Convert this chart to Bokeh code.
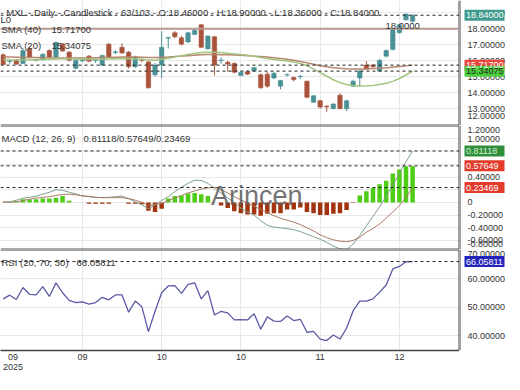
from bokeh.plotting import figure
from bokeh.layouts import column, row
from bokeh.models import (ColumnDataSource, Span, Label, FixedTicker, Range1d)
from bokeh.core.properties import value
from bokeh.embed import file_html
from bokeh.resources import INLINE

# ---------------- data ----------------
open_ = [16.36, 15.94, 16.02, 15.82, 16.73, 16.02, 16.05, 16.63, 16.22, 17.05,
         16.53, 15.52, 15.98, 16.28, 16.00, 15.72, 17.03, 16.50, 16.83, 16.53,
         15.62, 16.06, 15.92, 15.11, 15.72, 17.40, 17.74, 17.43, 17.17, 17.64,
         18.24, 16.73, 17.49, 16.00, 15.90, 15.82, 15.07, 15.31, 15.35, 15.11,
         15.15, 14.91, 14.40, 15.10, 14.95, 14.99, 14.71, 13.39, 13.49, 13.15,
         12.99, 13.84, 12.99, 14.40, 14.91, 15.72, 15.72, 15.35, 16.28, 16.69,
         17.74, 18.55, 18.46]
high = [16.45, 16.10, 16.08, 16.80, 16.85, 16.12, 16.45, 16.70, 17.20, 17.10,
        16.60, 16.10, 16.10, 16.35, 16.12, 16.38, 17.10, 16.65, 17.09, 16.60,
        16.30, 16.12, 16.00, 15.85, 17.84, 17.48, 17.85, 17.55, 17.80, 18.04,
        18.30, 17.60, 17.55, 16.20, 15.98, 15.90, 15.35, 15.38, 15.62, 15.20,
        15.30, 15.30, 14.80, 15.20, 15.00, 15.10, 14.75, 13.85, 13.55, 13.20,
        13.32, 13.95, 13.55, 14.80, 15.40, 15.97, 15.80, 16.10, 16.70, 18.00,
        18.30, 18.95, 18.90]
low = [15.70, 15.80, 15.72, 15.78, 16.15, 15.95, 16.00, 16.15, 16.15, 16.55,
       15.95, 15.45, 15.90, 15.90, 15.85, 15.65, 16.15, 16.40, 16.42, 15.50,
       15.55, 15.90, 14.25, 15.00, 14.91, 16.75, 17.40, 16.95, 17.10, 17.60,
       16.80, 16.70, 15.07, 15.80, 15.31, 15.20, 15.02, 15.10, 15.30, 14.25,
       14.30, 14.85, 14.20, 15.00, 14.70, 14.85, 13.65, 13.35, 12.98, 12.80,
       12.95, 12.95, 12.85, 14.35, 14.40, 15.42, 15.55, 15.30, 16.20, 16.65,
       17.70, 18.50, 18.36]
close = [15.76, 15.98, 15.78, 16.63, 16.22, 16.06, 16.40, 16.22, 17.13, 16.60,
         16.02, 16.02, 16.02, 15.96, 16.04, 16.32, 16.22, 16.55, 16.48, 15.62,
         16.22, 16.02, 14.30, 15.72, 16.83, 17.45, 17.49, 17.03, 17.74, 17.90,
         16.83, 17.54, 15.72, 16.04, 15.78, 15.27, 15.27, 15.15, 15.56, 14.30,
         14.40, 15.21, 14.75, 15.12, 14.81, 15.02, 13.70, 13.80, 13.09, 13.10,
         13.29, 12.99, 13.49, 14.71, 15.35, 15.47, 15.62, 16.02, 16.63, 17.94,
         18.24, 18.91, 18.84]
sma40 = [16.22, 16.22, 16.21, 16.20, 16.20, 16.19, 16.18, 16.18, 16.17, 16.17,
         16.16, 16.16, 16.16, 16.17, 16.18, 16.19, 16.20, 16.21, 16.22, 16.22,
         16.22, 16.21, 16.20, 16.19, 16.20, 16.22, 16.25, 16.28, 16.31, 16.34,
         16.36, 16.38, 16.38, 16.37, 16.36, 16.35, 16.33, 16.31, 16.28, 16.25,
         16.22, 16.18, 16.13, 16.08, 16.02, 15.95, 15.86, 15.77, 15.68, 15.61,
         15.56, 15.52, 15.49, 15.47, 15.47, 15.48, 15.50, 15.52, 15.55, 15.59,
         15.63, 15.67, 15.717]
sma20 = [16.05, 16.04, 16.03, 16.04, 16.05, 16.06, 16.07, 16.08, 16.10, 16.11,
         16.11, 16.10, 16.09, 16.08, 16.08, 16.09, 16.10, 16.12, 16.13, 16.12,
         16.10, 16.08, 16.03, 16.02, 16.08, 16.15, 16.22, 16.30, 16.38, 16.45,
         16.50, 16.53, 16.52, 16.50, 16.46, 16.42, 16.38, 16.33, 16.27, 16.20,
         16.13, 16.07, 16.02, 15.97, 15.92, 15.82, 15.68, 15.48, 15.25, 15.02,
         14.80, 14.62, 14.50, 14.44, 14.41, 14.42, 14.45, 14.50, 14.58, 14.70,
         14.88, 15.10, 15.34075]
macd_line = [0.0, 0.01, 0.035, 0.066, 0.08, 0.10, 0.13, 0.16, 0.20, 0.19,
             0.16, 0.136, 0.10, 0.09, 0.08, 0.076, 0.08, 0.09, 0.10, 0.06,
             0.01, -0.04, -0.10, -0.04, 0.03, 0.09, 0.17, 0.24, 0.30, 0.35,
             0.345, 0.30, 0.22, 0.15, 0.07, 0.0, -0.09, -0.15, -0.20, -0.29,
             -0.36, -0.39, -0.40, -0.415, -0.43, -0.46, -0.50, -0.54, -0.58, -0.63,
             -0.69, -0.73, -0.74, -0.66, -0.52, -0.37, -0.22, -0.07, 0.10, 0.27,
             0.46, 0.64, 0.81118]
signal_line = [0.01, 0.0, 0.01, 0.03, 0.05, 0.07, 0.08, 0.09, 0.11, 0.125,
               0.13, 0.12, 0.105, 0.095, 0.08, 0.075, 0.075, 0.075, 0.075, 0.06,
               0.035, 0.0, -0.05, -0.03, -0.02, 0.03, 0.07, 0.11, 0.15, 0.18,
               0.21, 0.23, 0.24, 0.20, 0.15, 0.09, 0.04, -0.01, -0.06, -0.11,
               -0.16, -0.21, -0.25, -0.28, -0.31, -0.35, -0.40, -0.45, -0.51, -0.555,
               -0.59, -0.61, -0.62, -0.60, -0.55, -0.47, -0.41, -0.34, -0.25, -0.15,
               -0.05, 0.08, 0.23469]
histogram = [0.0, 0.0, 0.02, 0.05, 0.05, 0.05, 0.06, 0.06, 0.075, 0.1,
             0.025, 0.0, 0.0, -0.02, -0.02, -0.02, -0.02, 0.0, 0.0, -0.02,
             -0.02, -0.03, -0.13, -0.15, -0.10, 0.06, 0.10, 0.11, 0.14, 0.15,
             0.13, 0.10, 0.0, -0.05, -0.09, -0.14, -0.17, -0.19, -0.19, -0.21,
             -0.18, -0.17, -0.17, -0.11, -0.11, -0.08, -0.15, -0.17, -0.20, -0.20,
             -0.18, -0.17, -0.12, -0.01, 0.11, 0.177, 0.227, 0.288, 0.343, 0.455,
             0.52, 0.57, 0.57]
rsi = [52.98, 54.28, 52.76, 56.98, 54.60, 54.38, 57.30, 53.84, 58.60, 55.14,
       52.44, 51.68, 51.90, 51.14, 51.68, 53.52, 52.65, 54.38, 54.38, 48.32,
       52.22, 50.27, 41.50, 48.65, 55.14, 57.52, 57.63, 54.93, 58.06, 58.60,
       52.98, 55.90, 47.35, 48.65, 48.10, 45.62, 45.73, 45.62, 47.78, 42.37,
       46.70, 45.18, 45.08, 47.02, 45.40, 45.83, 41.29, 41.61, 38.91, 38.37,
       40.31, 38.91, 42.69, 48.86, 52.22, 52.22, 52.98, 55.36, 57.85, 63.47,
       64.34, 66.00, 66.05811]

# tick values and their labels (the edge ones are shown nudged inside the panel)
price_ticks = [13, 14, 15, 16, 17, 18, 19]
price_tick_labels = ["13.00000", "14.00000", "15.00000", "16.00000", "17.00000",
                     "18.00000", "19.00000"]
price_edge_label = ("12.00000", 12.52)
macd_ticks = [-0.6, -0.4, -0.2, 0, 0.2, 0.4, 0.6, 0.8, 1.0]
macd_tick_labels = ["-0.60000", "-0.40000", "-0.20000", "0", "0.20000", "0.40000",
                    "0.60000", "0.80000", "1.00000"]
macd_edge_labels = [("1.20000", 1.135), ("-0.80000", -0.65)]
rsi_ticks = [40, 50, 60]
rsi_tick_labels = ["40.00000", "50.00000", "60.00000"]
rsi_edge_label = ("70.00000", 68.67)
date_ticks = [1.5, 12, 24, 36, 48, 60]
date_labels = ["09\n2025", "09", "10", "10", "11", "12"]

title_text = "- MXL - Daily - Candlestick - 63/103 - O:18.46000 - H:18.90000 - L:18.36000 - C:18.84000"
last_close = 18.84
level_price = 18.0
sma40_last = 15.717
sma20_last = 15.34075
macd_last = 0.81118
signal_last = 0.57649
hist_last = 0.23469
rsi_last = 66.05811

# ---------------- styling ----------------
FONT = "Liberation Sans"
TXT = "#333333"
GRID = "#e8e8e8"
EDGE = "#444444"
UP = "#4a9196"
DOWN = "#a9533d"
POS = "#4fcc14"
NEG = "#a2340f"
FRAME_W = 459
SIDE_W = 53

n = len(close)
idx = list(range(n))
XR = Range1d(-0.4, 69.1)


def make_fig(height, yr, gticks, bottom=0, xaxis=False):
    p = figure(width=FRAME_W, height=height, x_range=XR, y_range=yr,
               output_backend="svg", toolbar_location=None, tools="",
               x_axis_location="below" if xaxis else None,
               y_axis_location=None,
               min_border_left=0, min_border_right=0,
               min_border_top=0, min_border_bottom=bottom)
    p.outline_line_color = None
    p.background_fill_color = "white"
    p.border_fill_color = "white"
    p.ygrid.ticker = FixedTicker(ticks=gticks)
    p.ygrid.grid_line_color = GRID
    p.xgrid.ticker = FixedTicker(ticks=date_ticks[1:])
    p.xgrid.grid_line_color = GRID
    p.add_layout(Span(location=XR.end, dimension="height", line_color=EDGE, line_width=2))
    return p


def side_fig(height, yr, ticks, labels, edges, boxes, bottom=0):
    s = figure(width=SIDE_W, height=height, x_range=Range1d(0, SIDE_W), y_range=yr,
               output_backend="svg", toolbar_location=None, tools="",
               x_axis_location=None, y_axis_location=None,
               min_border_left=0, min_border_right=0,
               min_border_top=0, min_border_bottom=bottom)
    s.outline_line_color = None
    s.background_fill_color = "white"
    s.border_fill_color = "white"
    s.xgrid.visible = False
    s.ygrid.visible = False
    s.add_layout(Span(location=0, dimension="height", line_color=EDGE, line_width=2))
    all_y = list(ticks) + [e[1] for e in edges]
    all_t = list(labels) + [e[0] for e in edges]
    s.text(x=[8] * len(all_y), y=all_y, text=all_t, text_font=value(FONT),
           text_font_size="9px", text_color=TXT, text_baseline="middle", text_align="left")
    s.rect(x=[25] * len(boxes), y=[b[1] for b in boxes], width=40, height=11,
           width_units="screen", height_units="screen",
           fill_color=[b[2] for b in boxes], line_color=None)
    s.text(x=[6.5] * len(boxes), y=[b[1] for b in boxes], text=[b[0] for b in boxes],
           text_font=value(FONT), text_font_size="9px",
           text_color=[b[3] for b in boxes], text_baseline="middle", text_align="left")
    return s


def text(p, s, x, y, size="9.5px", color=TXT, x_units="screen", align="left",
         baseline="middle", **kw):
    p.add_layout(Label(x=x, y=y, x_units=x_units, y_units="data", text=s,
                       text_font=FONT, text_font_size=size, text_color=color,
                       text_align=align, text_baseline=baseline, **kw))


def dashed(p, loc):
    p.add_layout(Span(location=loc, dimension="width", line_color="#222222",
                      line_dash="3 3", line_width=1))


# ---------------- main price panel ----------------
yr1 = Range1d(11.94, 19.76)
p1 = make_fig(125, yr1, price_ticks)
src = ColumnDataSource(dict(
    x=idx, o=open_, h=high, l=low, c=close,
    top=[max(a, b) for a, b in zip(open_, close)],
    bot=[min(a, b) for a, b in zip(open_, close)],
    col=[UP if c >= o else DOWN for o, c in zip(open_, close)]))
p1.segment("x", "h", "x", "l", source=src, line_color="col", line_width=1)
p1.vbar(x="x", width=0.68, top="top", bottom="bot", source=src,
        fill_color="col", line_color="col", line_width=0.5)
p1.line(idx, sma40, line_color="#b5876f", line_width=1.5)
p1.line(idx, sma20, line_color="#a3c47f", line_width=1.5)
p1.add_layout(Span(location=level_price, dimension="width",
                   line_color="#b8998f", line_width=2))
dashed(p1, last_close)
dashed(p1, sma40_last)
dashed(p1, sma20_last)
p1.add_layout(Span(location=yr1.start, dimension="width", line_color="#555555", line_width=2))
text(p1, title_text, 0, 19.03)
text(p1, "L0", 0, 18.55)
text(p1, "SMA (40)", 1, 17.94)
text(p1, "%.5f" % sma40_last, 51, 17.94)
text(p1, "SMA (20)", 1, 16.94)
text(p1, "%.5f" % sma20_last, 51, 16.94)
text(p1, "18.0000", 57.9, 18.16, x_units="data", baseline="alphabetic")
s1 = side_fig(125, yr1, price_ticks, price_tick_labels, [price_edge_label],
              [("%.5f" % last_close, last_close, "#3f9a8e", "white"),
               ("%.5f" % sma40_last, sma40_last, "#e8463c", "white"),
               ("%.5f" % sma20_last, sma20_last, "#4ccd3c", "#1e2a1e")])

# ---------------- MACD panel ----------------
yr2 = Range1d(-0.742, 1.212)
p2 = make_fig(124, yr2, macd_ticks + [1.2])
p2.vbar(x=idx, top=histogram, bottom=0, width=0.68,
        fill_color=[POS if v >= 0 else NEG for v in histogram], line_color=None)
p2.line(idx, macd_line, line_color="#7da08a", line_width=1)
p2.line(idx, signal_line, line_color="#a87a62", line_width=1)
dashed(p2, macd_last)
dashed(p2, signal_last)
dashed(p2, hist_last)
p2.add_layout(Span(location=yr2.start, dimension="width", line_color="#555555", line_width=2))
p2.add_layout(Span(location=yr2.end, dimension="width", line_color="#555555", line_width=2))
text(p2, "Arincen", 38.4, 0.106, size="27px", color="#5a5a5a", x_units="data",
     align="center", baseline="alphabetic", text_alpha=0.85)
text(p2, "MACD (12, 26, 9)", 1, 1.008)
text(p2, "%.5f/%.5f/%.5f" % (macd_last, signal_last, hist_last), 83, 1.008)
s2 = side_fig(124, yr2, macd_ticks, macd_tick_labels, macd_edge_labels,
              [("%.5f" % macd_last, macd_last, "#2f8f3c", "#d8f0d0"),
               ("%.5f" % signal_last, signal_last, "#e23b2b", "white"),
               ("%.5f" % hist_last, hist_last, "#e23b2b", "white")])

# ---------------- RSI panel ----------------
yr3 = Range1d(34.9, 70.29)
p3 = make_fig(125, yr3, rsi_ticks + [70], bottom=20, xaxis=True)
p3.line(idx, rsi, line_color="#5a5aa5", line_width=1.3)
dashed(p3, rsi_last)
p3.add_layout(Span(location=yr3.end, dimension="width", line_color="#555555", line_width=2))
xa = p3.xaxis[0]
xa.ticker = FixedTicker(ticks=date_ticks)
xa.major_label_overrides = {t: s for t, s in zip(date_ticks, date_labels)}
xa.axis_line_color = EDGE
xa.axis_line_width = 1.5
xa.major_tick_line_color = None
xa.minor_tick_line_color = None
xa.major_tick_out = 0
xa.major_tick_in = 0
xa.major_label_standoff = 1
xa.major_label_text_font = FONT
xa.major_label_text_font_size = "9px"
xa.major_label_text_color = TXT
xa.major_label_text_line_height = 1.0
text(p3, "RSI (20, 70, 30)", 1, 65.58)
text(p3, "%.5f" % rsi_last, 76, 65.58)
s3 = side_fig(125, yr3, rsi_ticks, rsi_tick_labels, [rsi_edge_label],
              [("%.5f" % rsi_last, rsi_last, "#2424bb", "white")], bottom=20)

layout = column(row(p1, s1, spacing=0), row(p2, s2, spacing=0),
                row(p3, s3, spacing=0), spacing=0)
open("out.html", "w").write(file_html(layout, INLINE, "MXL"))
